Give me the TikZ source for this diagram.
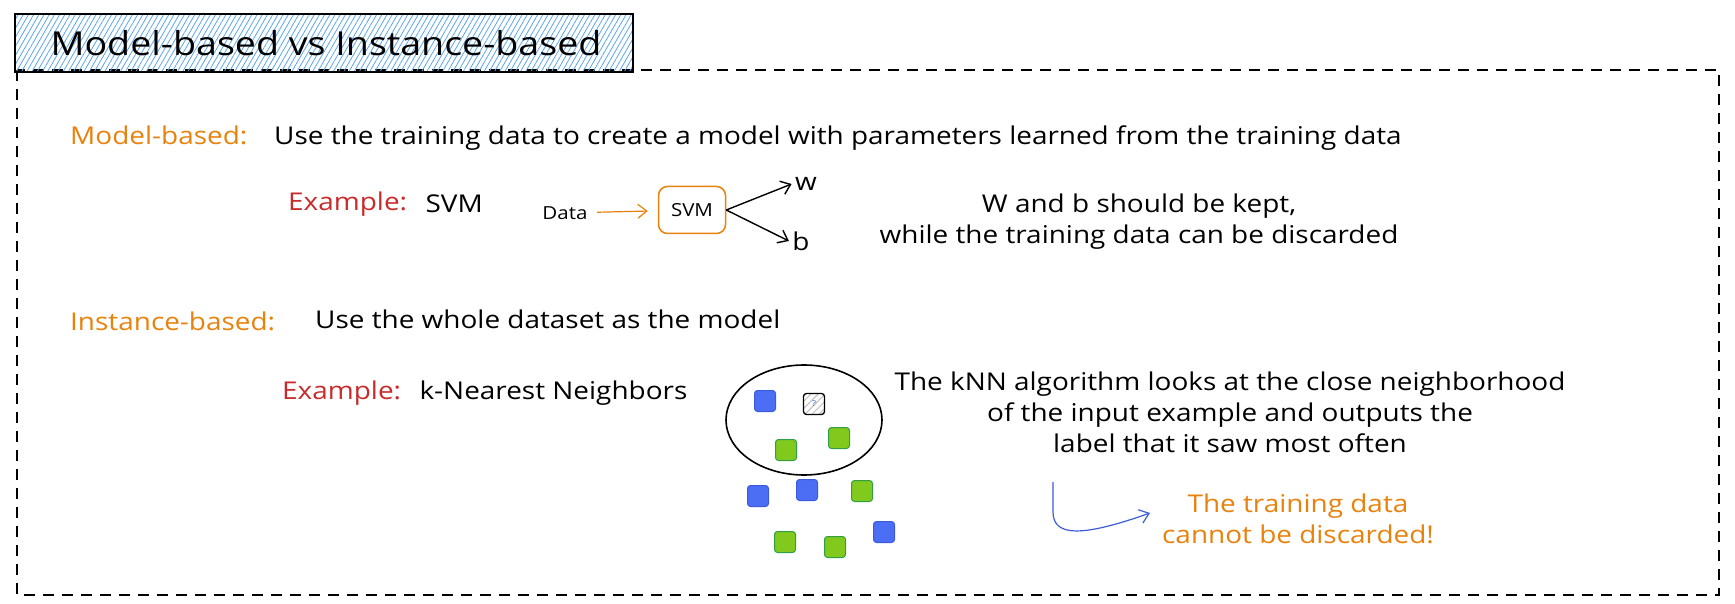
\documentclass[tikz,border=0pt]{standalone}
\usepackage{fontspec}
\setmainfont{Open Sans}[FakeStretch=1.14]
\usetikzlibrary{arrows.meta,positioning,patterns.meta}

\definecolor{hatchblue}{HTML}{5AA5EE}
\definecolor{exorange}{HTML}{E8820C}
\definecolor{exred}{HTML}{C92A2A}
\definecolor{ptblue}{HTML}{4C6EF5}
\definecolor{ptbluedark}{HTML}{3B5BDB}
\definecolor{ptgreen}{HTML}{82C91E}
\definecolor{ptgreendark}{HTML}{2F9E44}

\begin{document}
\begin{tikzpicture}[
  x=1pt, y=-1pt,
  font=\fontsize{24.5}{31}\selectfont,
  node distance=18pt,
  txt/.style={inner sep=0pt, anchor=west},
  head/.style={txt, text=exorange},
  exlabel/.style={txt, text=exred},
  svmbox/.style={draw=exorange, line width=1.5pt, rounded corners=9pt, minimum width=67pt, minimum height=47pt, font=\fontsize{18}{22}\selectfont},
  barb/.style={-{Straight Barb[length=9pt, width=14pt]}, line width=1.4pt},
  sq/.style={rounded corners=3pt, minimum size=21pt, inner sep=0pt, line width=1pt},
  bluesq/.style={sq, fill=ptblue, draw=ptbluedark},
  greensq/.style={sq, fill=ptgreen, draw=ptgreendark},
  querysq/.style={sq, draw=black, line width=1.3pt, pattern={Lines[angle=45, distance=5pt, line width=1pt]}, pattern color=black!25, font=\fontsize{8}{8}\selectfont, text=ptbluedark}
]
\useasboundingbox (0,0) rectangle (1735,604);

% frame and title
\draw[line width=1.5pt, dash pattern=on 11pt off 8pt] (17,70) rectangle (1719,595);
\draw[line width=1.6pt, pattern={Lines[angle=60, distance=4.5pt, line width=0.8pt]}, pattern color=hatchblue] (15,14) rectangle (633,72);
\node[font=\fontsize{33}{36}\selectfont] (title) at (326,43) {Model-based vs Instance-based};

% model-based
\node[head] (mbhead) at (70,135) {Model-based:};
\node[txt] (mbtext) at (274,138) {Use the training data to create a model with parameters learned from the training data};
\node[exlabel] (ex1) at (288,204) {Example:};
\node[txt, right=of ex1] (svmname) {SVM};

\node[font=\fontsize{18}{22}\selectfont] (data) at (565,213) {Data};
\node[svmbox] (svm) at (692,210) {SVM};
\node (w) at (806,184) {w};
\node (b) at (801,241) {b};
\draw[barb, draw=exorange, line width=1.2pt, shorten <=6pt, shorten >=10pt] (data) -- (svm);
\draw[barb] (svm.east) -- (w.west);
\draw[barb] (svm.east) -- (b.west);

\node[align=center] (kept) at (1139,222) {W and b should be kept,\\while the training data can be discarded};

% instance-based
\node[head] (ibhead) at (70,321) {Instance-based:};
\node[txt] (ibtext) at (315,319) {Use the whole dataset as the model};
\node[exlabel] (ex2) at (282,393) {Example:};
\node[txt, right=of ex2] (knnname) {k-Nearest Neighbors};

\draw[line width=1.6pt] (804,420) ellipse [x radius=78, y radius=55];
\node[bluesq] (p1) at (765,401) {};
\node[querysq] (query) at (814,404) {?};
\node[greensq] (p2) at (786,450) {};
\node[greensq] (p3) at (839,438) {};
\node[bluesq] (p4) at (758,496) {};
\node[bluesq] (p5) at (807,490) {};
\node[greensq] (p6) at (862,491) {};
\node[greensq] (p7) at (785,542) {};
\node[greensq] (p8) at (835,547) {};
\node[bluesq] (p9) at (884,532) {};

\node[align=center] (knndesc) at (1230,412) {The kNN algorithm looks at the close neighborhood\\of the input example and outputs the\\label that it saw most often};

\coordinate (kstart) at (1053,482);
\coordinate (kend) at (1150,513);
\draw[barb, draw=ptbluedark, line width=1.2pt] (kstart) -- (1053,512) .. controls (1053,538) and (1085,536) .. (kend);
\node[align=center, text=exorange] (keep) at (1298,519) {The training data\\cannot be discarded!};
\end{tikzpicture}
\end{document}
